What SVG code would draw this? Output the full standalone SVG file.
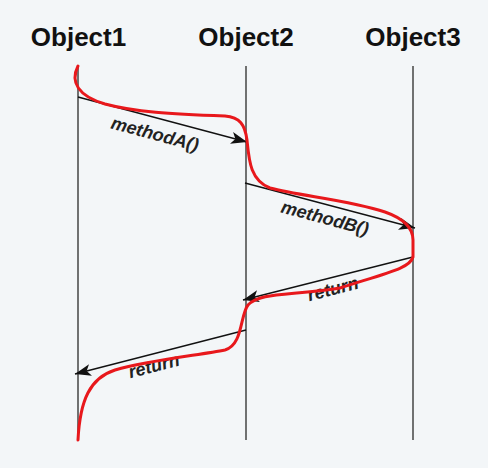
<svg xmlns="http://www.w3.org/2000/svg" width="488" height="468" viewBox="0 0 488 468">
<defs>
<style>
.title{font-family:"Liberation Sans",Arial,sans-serif;font-weight:bold;font-size:26px;fill:#111;text-anchor:middle}
.life{stroke:#444;stroke-width:1.5;fill:none}
.msg{stroke:#111;stroke-width:1.3;fill:none;marker-end:url(#ah)}
.lbl{font-family:"Liberation Sans",Arial,sans-serif;font-weight:bold;font-style:italic;font-size:18px;fill:#222;text-anchor:middle}
.flow{stroke:#e8181c;stroke-width:3;fill:none;stroke-linecap:round;stroke-linejoin:round}
</style>
<marker id="ah" viewBox="0 0 16 12" refX="16" refY="6" markerWidth="16" markerHeight="12" markerUnits="userSpaceOnUse" orient="auto">
<path d="M0,0 L16,6 L0,12 L4,6 Z" fill="#111"/>
</marker>
</defs>
<rect width="488" height="468" fill="#f3f6f8"/>
<g id="object1">
<text class="title" x="78.5" y="46">Object1</text>
<line class="life" x1="78" y1="66" x2="78" y2="440"/>
</g>
<g id="object2">
<text class="title" x="246" y="46">Object2</text>
<line class="life" x1="246" y1="66" x2="246" y2="440"/>
</g>
<g id="object3">
<text class="title" x="413" y="46">Object3</text>
<line class="life" x1="413" y1="66" x2="413" y2="440"/>
</g>
<g id="connectors">
<line class="msg" x1="78" y1="97" x2="247" y2="142"/>
<line class="msg" x1="245" y1="183" x2="415" y2="228"/>
<line class="msg" x1="413" y1="257" x2="243" y2="300"/>
<line class="msg" x1="246" y1="330" x2="75" y2="374"/>
<text class="lbl" transform="translate(155,134) rotate(15)" y="6">methodA()</text>
<text class="lbl" transform="translate(325,218) rotate(15)" y="6">methodB()</text>
<text class="lbl" transform="translate(333,289) rotate(-14.5)" y="6">return</text>
<text class="lbl" transform="translate(154,366) rotate(-14.5)" y="6">return</text>
</g>
<g id="flow">
<path class="flow" d="M78,66 C70,82 78,96 105,104 C135,112 170,114 225,116 C240,117 245,125 247,140 C249,160 250,180 270,188 C300,196 350,200 385,212 C405,219 413,228 413,240 L413,257 C410,268 390,272 340,288 C290,296 260,292 248,305 C240,315 243,345 225,350 C200,355 150,360 115,370 C90,378 80,400 78,440"/>
</g>
</svg>
